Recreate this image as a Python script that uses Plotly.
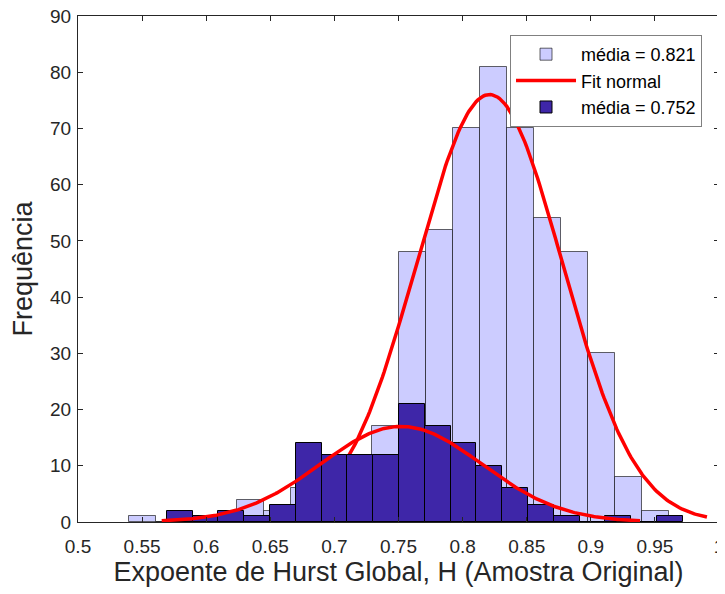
import numpy as np
import plotly.graph_objects as go

# light histogram (media = 0.821), 20 bins
light_start = 0.5398
light_width = 0.02106
light_counts = [1, 0, 0, 1, 4, 2, 6, 9, 11, 17, 48, 52, 70, 81, 70, 54, 48, 30, 8, 2]
light_mu = 0.821
light_sigma = 0.0568
light_fit_range = [0.57, 0.9906]

# dark histogram (media = 0.752), 20 bins
dark_start = 0.5692
dark_width = 0.02013
dark_counts = [2, 1, 2, 1, 3, 14, 12, 12, 12, 21, 17, 14, 10, 6, 3, 1, 0, 1, 0, 1]
dark_mu = 0.752
dark_sigma = 0.0628
dark_fit_range = [0.5653, 0.9384]

x_ticks = [0.5, 0.55, 0.6, 0.65, 0.7, 0.75, 0.8, 0.85, 0.9, 0.95, 1.0]
x_tick_labels = ["0.5", "0.55", "0.6", "0.65", "0.7", "0.75", "0.8", "0.85", "0.9", "0.95", "1"]
y_ticks = [0, 10, 20, 30, 40, 50, 60, 70, 80, 90]
x_range = [0.5, 1.0]
y_range = [0, 90]

LIGHT = "#CCCCFF"
DARK = "#3E26A8"
AXIS = "#262626"


def centers(start, width, n):
    return start + width * (np.arange(n) + 0.5)


def normal_fit(counts, width, mu, sigma, xr):
    x = np.linspace(xr[0], xr[1], 300)
    scale = sum(counts) * width
    y = scale / (sigma * np.sqrt(2 * np.pi)) * np.exp(-0.5 * ((x - mu) / sigma) ** 2)
    return x, y


fig = go.Figure()

fig.add_trace(go.Bar(
    x=centers(light_start, light_width, len(light_counts)),
    y=light_counts,
    width=light_width,
    marker=dict(color=LIGHT, line=dict(color="rgba(0,0,0,0.6)", width=1)),
    name="média = 0.821",
))
lx, ly = normal_fit(light_counts, light_width, light_mu, light_sigma, light_fit_range)
fig.add_trace(go.Scatter(
    x=lx, y=ly, mode="lines",
    line=dict(color="red", width=3.5),
    name="Fit normal",
))
# second group sits on an overlaid subplot so it is drawn on top of the first fit line
fig.add_trace(go.Bar(
    x=centers(dark_start, dark_width, len(dark_counts)),
    y=dark_counts,
    width=dark_width,
    marker=dict(color=DARK, line=dict(color="black", width=1)),
    name="média = 0.752",
    xaxis="x2", yaxis="y2",
))
dx, dy = normal_fit(dark_counts, dark_width, dark_mu, dark_sigma, dark_fit_range)
fig.add_trace(go.Scatter(
    x=dx, y=dy, mode="lines",
    line=dict(color="red", width=3.5),
    name="Fit normal dark",
    showlegend=False,
    xaxis="x2", yaxis="y2",
))

# page body adds an 8px margin, so the figure is sized to fit the window
fig.update_layout(
    width=717,
    height=586,
    margin=dict(l=70, r=6, t=8, b=72),
    paper_bgcolor="white",
    plot_bgcolor="white",
    barmode="overlay",
    bargap=0,
    font=dict(family="Liberation Sans, Arial, sans-serif", color=AXIS, size=19),
    legend=dict(
        x=0.9735, y=0.9625, xanchor="right", yanchor="top",
        bordercolor="#808080", borderwidth=1, bgcolor="white",
        font=dict(size=18, color="black"),
        tracegroupgap=0, itemwidth=60,
    ),
    showlegend=True,
    xaxis=dict(
        range=x_range,
        tickvals=x_ticks, ticktext=x_tick_labels,
        ticks="inside", ticklen=5, tickcolor=AXIS, ticklabelstandoff=7,
        ticklabeloverflow="allow",
        showline=True, linecolor=AXIS, linewidth=1, mirror="ticks",
        showgrid=False, zeroline=False, automargin=False,
        title=dict(text="Expoente de Hurst Global, H (Amostra Original)", font=dict(size=27), standoff=0),
    ),
    yaxis=dict(
        range=y_range,
        tickvals=y_ticks,
        ticks="inside", ticklen=5, tickcolor=AXIS, ticklabelstandoff=2,
        ticklabeloverflow="allow",
        showline=True, linecolor=AXIS, linewidth=1, mirror="ticks",
        showgrid=False, zeroline=False, automargin=False,
        title=dict(text="Frequência", font=dict(size=27), standoff=10),
    ),
    xaxis2=dict(overlaying="x", range=x_range, visible=False),
    yaxis2=dict(overlaying="y", range=y_range, visible=False),
)

fig.write_html("out.html")
